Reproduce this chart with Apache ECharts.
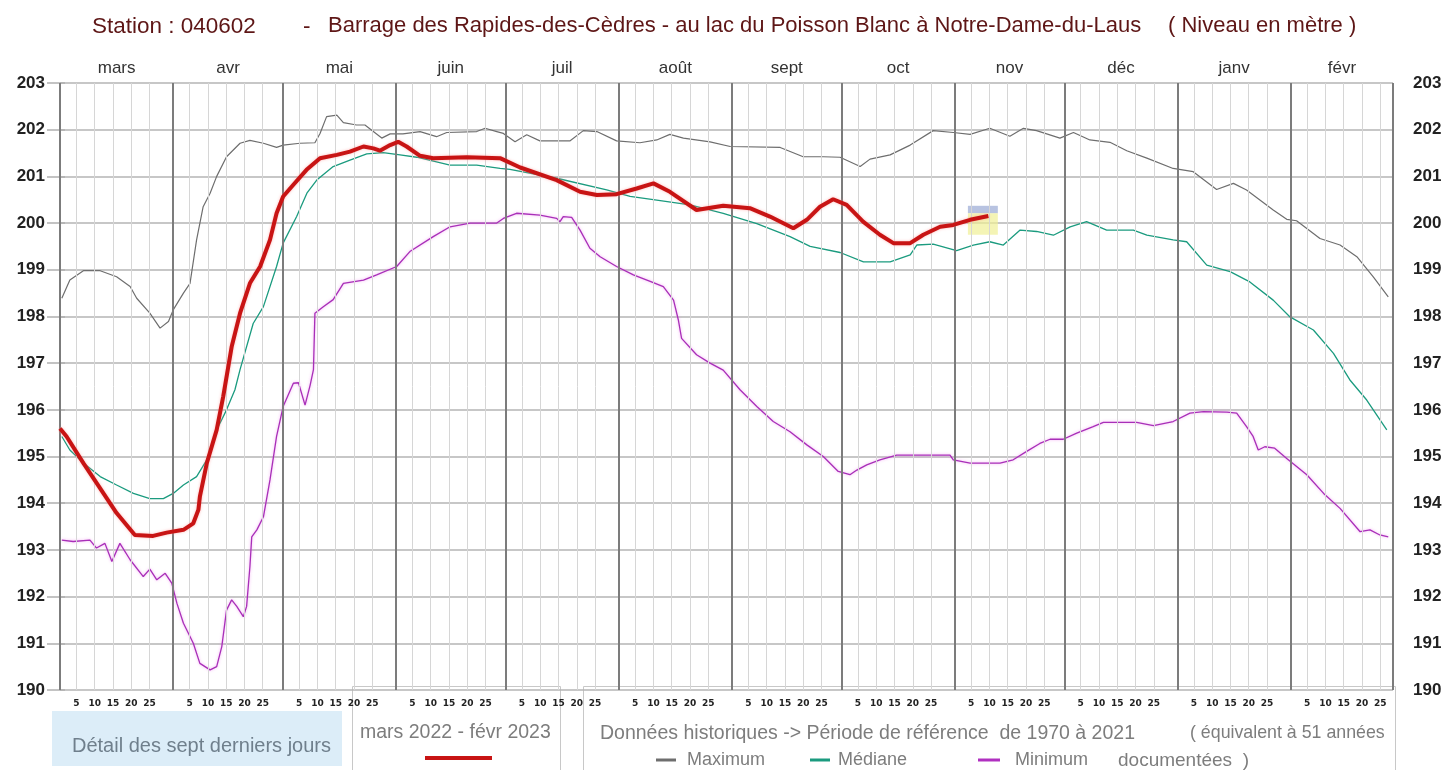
<!DOCTYPE html>
<html><head><meta charset="utf-8">
<script src="https://cdn.jsdelivr.net/npm/echarts@6/dist/echarts.min.js"></script>
<style>html,body{margin:0;padding:0;background:#fff}#c{width:1446px;height:770px}</style>
</head><body><div id="c"></div>
<script>
// ---- Axis definitions ----
const monthNames = ['mars','avr','mai','juin','juil','août','sept','oct','nov','déc','janv','févr'];
const monthLengths = [31,30,31,30,31,31,30,31,30,31,31,28];
const dayTicks = [5,10,15,20,25];
const yMin = 190, yMax = 203;

// ---- Series: [day since 1 March, level in m] ----
const maxSeries = [[0.5,198.39],[2.7,198.78],[6.4,198.98],[11,198.98],[15.5,198.85],[19.2,198.64],[21,198.39],[24.6,198.07],[27.4,197.75],[29.7,197.89],[31,198.14],[33.8,198.5],[35.6,198.71],[37.4,199.64],[39.2,200.35],[41.1,200.64],[42.9,201.0],[45.6,201.42],[49.3,201.71],[52,201.77],[55.7,201.71],[59.3,201.62],[61.1,201.67],[65.7,201.71],[69.8,201.72],[71.2,201.92],[73,202.28],[75.8,202.31],[77.6,202.15],[81.2,202.1],[83.5,202.1],[85.8,201.96],[88.1,201.82],[90.4,201.91],[93.9,201.91],[98.6,201.96],[103.1,201.85],[105.9,201.94],[114.1,201.96],[116.4,202.03],[119.6,201.96],[121.4,201.92],[124.6,201.74],[127.8,201.89],[131.4,201.76],[139.6,201.76],[143.3,201.98],[147,201.96],[152.4,201.76],[158.8,201.72],[163.4,201.78],[167,201.9],[170.7,201.82],[178,201.74],[183.5,201.64],[197.2,201.62],[203.5,201.42],[209,201.42],[213.6,201.41],[219.1,201.21],[221.8,201.37],[227.3,201.46],[232.8,201.67],[239.1,201.98],[244.6,201.94],[249.2,201.9],[254.6,202.03],[260.1,201.86],[263.8,202.03],[267.4,201.98],[273.8,201.82],[277.5,201.94],[282,201.78],[287.5,201.73],[292.1,201.55],[297.6,201.39],[304.8,201.17],[310.3,201.1],[316.7,200.72],[321.3,200.85],[324.9,200.71],[332.2,200.28],[335.9,200.08],[338.6,200.05],[345,199.67],[350.5,199.53],[355.1,199.28],[359.6,198.85],[363.7,198.42]];

const medianSeries = [[0.5,195.43],[2.7,195.14],[6.4,194.86],[11,194.57],[15.5,194.39],[20.1,194.21],[24.6,194.1],[28.3,194.1],[31,194.21],[33.8,194.39],[37.4,194.57],[40.2,194.93],[42.9,195.57],[45.6,196.0],[47.9,196.43],[49.3,196.86],[52.9,197.85],[55.7,198.21],[59.3,199.07],[61.1,199.57],[64.8,200.14],[67.6,200.64],[70.3,200.92],[74.8,201.21],[79.4,201.35],[84,201.48],[88.5,201.51],[93.1,201.46],[97.7,201.41],[106.8,201.24],[114.1,201.24],[120.5,201.17],[123.2,201.15],[136,200.96],[149.7,200.71],[156.1,200.57],[163.4,200.49],[172.5,200.39],[181.6,200.21],[190.8,199.99],[199.9,199.71],[205.4,199.5],[213.6,199.37],[220,199.17],[227.3,199.17],[232.8,199.32],[234.6,199.53],[239.1,199.55],[245.5,199.41],[250.1,199.53],[254.6,199.6],[258.3,199.53],[262.9,199.85],[267.4,199.82],[272,199.74],[276.6,199.92],[281.1,200.03],[286.6,199.85],[293.9,199.85],[297.6,199.74],[304.8,199.64],[308.5,199.6],[314,199.1],[320.4,198.96],[325.8,198.74],[332.2,198.35],[336.8,197.99],[343.2,197.71],[348.7,197.21],[353.2,196.64],[357.8,196.21],[363.3,195.57]];

const minSeries = [[0.5,193.21],[3.6,193.18],[8.2,193.21],[10,193.04],[12.3,193.14],[14.2,192.75],[16.4,193.14],[19.2,192.79],[22.8,192.43],[24.6,192.59],[26.5,192.36],[28.8,192.5],[30.6,192.29],[32,191.86],[33.8,191.43],[36.5,191.0],[38.3,190.57],[41.1,190.43],[42.9,190.5],[44.3,190.93],[45.6,191.71],[47,191.93],[48.4,191.79],[50.2,191.57],[51.1,191.79],[52,192.64],[52.5,193.28],[53.9,193.43],[55.7,193.71],[57.5,194.5],[59.3,195.43],[61.1,196.07],[63.9,196.57],[65.3,196.58],[67.1,196.1],[68.5,196.53],[69.4,196.86],[69.8,198.07],[72.1,198.21],[74.8,198.36],[77.6,198.71],[83.1,198.78],[86.7,198.89],[92.2,199.07],[95.8,199.39],[102.2,199.71],[106.8,199.92],[112.3,200.0],[119.6,200.0],[121.4,200.1],[125,200.21],[131.4,200.17],[136,200.1],[136.9,200.03],[137.8,200.14],[140.1,200.12],[142.4,199.85],[145.1,199.46],[147.9,199.28],[152.4,199.07],[157,198.89],[161.6,198.75],[165.2,198.64],[168,198.35],[169.3,197.93],[170.2,197.53],[174.3,197.18],[178,197.0],[181.6,196.85],[186.2,196.43],[190.8,196.07],[195.3,195.75],[199.9,195.53],[204.5,195.25],[209,195.0],[213.1,194.68],[216.3,194.61],[218.2,194.71],[220.9,194.82],[224.5,194.93],[229.1,195.03],[243.7,195.03],[244.6,194.93],[249.2,194.86],[257.4,194.86],[261,194.93],[264.7,195.11],[268.3,195.28],[271.1,195.37],[274.7,195.37],[278.4,195.5],[282.9,195.64],[285.7,195.73],[294.8,195.73],[299.4,195.66],[304.8,195.75],[309.4,195.93],[313.1,195.96],[319.5,195.95],[322.2,195.93],[324.9,195.64],[326.7,195.43],[328.1,195.14],[329.9,195.21],[332.6,195.18],[335.9,194.96],[341.4,194.61],[346,194.21],[350.5,193.89],[356,193.39],[358.7,193.43],[361.4,193.32],[363.7,193.28]];

const currentSeries = [[0,195.6],[1.8,195.43],[6.4,194.86],[11,194.32],[15.5,193.79],[20.5,193.32],[25.5,193.3],[29.2,193.37],[33.8,193.43],[36.5,193.57],[37.9,193.86],[38.3,194.14],[40.2,194.86],[42.9,195.57],[44.7,196.29],[47,197.35],[49.3,198.07],[52,198.71],[54.8,199.07],[57.5,199.64],[59.3,200.21],[61.1,200.57],[63.9,200.82],[67.5,201.14],[71.2,201.39],[75.8,201.46],[79.4,201.53],[83.1,201.64],[85.8,201.6],[87.6,201.55],[90.4,201.67],[92.6,201.74],[94.9,201.64],[98.6,201.44],[102.2,201.39],[111.4,201.41],[120.5,201.39],[126,201.19],[136,200.92],[142.4,200.67],[147,200.6],[152.4,200.62],[157.9,200.74],[162.5,200.85],[167,200.67],[174.3,200.28],[181.6,200.37],[188.9,200.32],[194.4,200.14],[200.8,199.89],[204.5,200.07],[208.1,200.35],[211.7,200.51],[215.4,200.39],[219.9,200.03],[224.5,199.75],[228.2,199.57],[232.8,199.57],[236.4,199.75],[241,199.92],[244.6,199.96],[249.2,200.07],[254.2,200.15]];

// last seven days window marker [startDay, endDay], level bands
const recentDays = [248.6, 256.8];
const recentBands = [200.37, 200.21, 199.75];

// ---- derived positions ----
const monthStarts = [];
let acc = 0;
monthLengths.forEach(l => { monthStarts.push(acc); acc += l; });
const yearLength = acc;
const monthMids = monthStarts.map((s, i) => s + monthLengths[i] / 2);
const monthLabelMap = {};
monthMids.forEach((m, i) => { monthLabelMap[m.toFixed(2)] = monthNames[i]; });
const minorPos = [];
const minorLabelMap = {};
monthStarts.forEach(s => dayTicks.forEach(d => {
  const p = s + d - 0.5;
  minorPos.push(p);
  minorLabelMap[p.toFixed(2)] = String(d);
}));
const boundaries = monthStarts.concat([yearLength]);

const chart = echarts.init(document.getElementById('c'), null, {renderer: 'canvas'});
const FONT = "'Liberation Sans',Arial,sans-serif";
const legendGray = '#7d7d7d';
const titleColor = '#5e1616';

const option = {
  animation: false,
  backgroundColor: '#ffffff',
  grid: {left: 60, right: 53, top: 83, bottom: 80, containLabel: false},
  xAxis: [
    {type: 'value', position: 'bottom', min: 0, max: yearLength,
     axisLine: {show: false}, axisTick: {show: false}, splitLine: {show: false},
     axisLabel: {customValues: minorPos, formatter: v => minorLabelMap[v.toFixed(2)] || '',
       fontSize: 9, fontWeight: 'bold', color: '#222', margin: 9, fontFamily: 'DejaVu Sans'}},
    {type: 'value', position: 'top', min: 0, max: yearLength,
     axisLine: {show: false}, axisTick: {show: false}, splitLine: {show: false},
     axisLabel: {customValues: monthMids, formatter: v => monthLabelMap[v.toFixed(2)] || '',
       fontSize: 17, color: '#333', margin: 6, fontFamily: FONT}}
  ],
  yAxis: [
    {type: 'value', position: 'left', min: yMin, max: yMax, interval: 1,
     axisLine: {show: false},
     axisTick: {show: true, length: 13, lineStyle: {color: '#b0b0b0', width: 1.5}},
     axisLabel: {fontSize: 17, fontWeight: 'bold', color: '#222', margin: 15, fontFamily: 'Liberation Sans'},
     splitLine: {show: true, lineStyle: {color: '#b4b4b4', width: 1.5}}},
    {type: 'value', position: 'right', min: yMin, max: yMax, interval: 1,
     axisLine: {show: false},
     axisTick: {show: true, length: 5, lineStyle: {color: '#b0b0b0', width: 1.5}},
     axisLabel: {fontSize: 17, fontWeight: 'bold', color: '#222', margin: 20, fontFamily: 'Liberation Sans'},
     splitLine: {show: false}}
  ],
  series: [
    {type: 'line', name: 'grid', data: [], silent: true, z: 1,
     markLine: {silent: true, symbol: ['none', 'none'], label: {show: false}, animation: false,
       data: minorPos.map(p => ({xAxis: p, lineStyle: {color: '#d6d6d6', width: 1, type: 'solid'}}))
         .concat(boundaries.map(b => ({xAxis: b, lineStyle: {color: '#7c7c7c', width: 2, type: 'solid'}})))}},
    {type: 'line', name: 'Maximum', data: maxSeries, showSymbol: false, z: 3,
     lineStyle: {color: '#6e6e6e', width: 1.2}},
    {type: 'line', name: 'Médiane', data: medianSeries, showSymbol: false, z: 3,
     lineStyle: {color: '#1b9b7f', width: 1.3}},
    {type: 'line', name: 'Minimum', data: minSeries, showSymbol: false, z: 3,
     lineStyle: {color: '#a82fb8', width: 1.3, shadowColor: 'rgba(240,130,240,0.7)', shadowBlur: 3}},
    {type: 'line', name: 'mars 2022 - févr 2023', data: currentSeries, showSymbol: false, z: 5,
     lineStyle: {color: '#c81414', width: 4, shadowColor: 'rgba(255,140,140,0.6)', shadowBlur: 3},
     markArea: {silent: true, data: [
       [{xAxis: recentDays[0], yAxis: recentBands[0], itemStyle: {color: 'rgba(160,175,215,0.75)'}},
        {xAxis: recentDays[1], yAxis: recentBands[1]}],
       [{xAxis: recentDays[0], yAxis: recentBands[1], itemStyle: {color: 'rgba(240,240,150,0.7)'}},
        {xAxis: recentDays[1], yAxis: recentBands[2]}]
     ]}}
  ],
  graphic: [
    // title
    {type: 'text', left: 92, top: 15, style: {text: 'Station : 040602', font: "22.5px " + FONT, fill: titleColor}},
    {type: 'text', left: 303, top: 15, style: {text: '-', font: "22.5px " + FONT, fill: titleColor}},
    {type: 'text', left: 328, top: 15, style: {text: 'Barrage des Rapides-des-Cèdres - au lac du Poisson Blanc à Notre-Dame-du-Laus', font: "22px " + FONT, fill: titleColor}},
    {type: 'text', left: 1168, top: 15, style: {text: '( Niveau en mètre )', font: "22px " + FONT, fill: titleColor}},
    // legend box 1
    {type: 'rect', shape: {x: 52, y: 711, width: 290, height: 55}, style: {fill: '#dcedf8'}},
    {type: 'text', left: 72, top: 736, style: {text: 'Détail des sept derniers jours', font: "20px " + FONT, fill: '#6f7f8c'}},
    // legend box 2
    {type: 'rect', shape: {x: 352.5, y: 686.5, width: 208, height: 90}, style: {fill: 'none', stroke: '#c8c8c8', lineWidth: 1}},
    {type: 'text', left: 360, top: 723, style: {text: 'mars 2022 - févr 2023', font: "19.5px " + FONT, fill: legendGray}},
    {type: 'line', shape: {x1: 425, y1: 758, x2: 492, y2: 758}, style: {stroke: '#c81414', lineWidth: 4}},
    // legend box 3
    {type: 'rect', shape: {x: 583.5, y: 686.5, width: 812, height: 90}, style: {fill: 'none', stroke: '#c8c8c8', lineWidth: 1}},
    {type: 'text', left: 600, top: 724, style: {text: 'Données historiques -> Période de référence  de 1970 à 2021', font: "19.5px " + FONT, fill: legendGray}},
    {type: 'text', left: 1190, top: 724, style: {text: '( équivalent à 51 années', font: "17.8px " + FONT, fill: legendGray}},
    {type: 'line', shape: {x1: 656, y1: 760, x2: 676, y2: 760}, style: {stroke: '#6e6e6e', lineWidth: 3}},
    {type: 'text', left: 687, top: 751, style: {text: 'Maximum', font: "18px " + FONT, fill: legendGray}},
    {type: 'line', shape: {x1: 810, y1: 760, x2: 830, y2: 760}, style: {stroke: '#1b9b7f', lineWidth: 3}},
    {type: 'text', left: 838, top: 751, style: {text: 'Médiane', font: "18px " + FONT, fill: legendGray}},
    {type: 'line', shape: {x1: 978, y1: 760, x2: 1000, y2: 760}, style: {stroke: '#b030c0', lineWidth: 3}},
    {type: 'text', left: 1015, top: 751, style: {text: 'Minimum', font: "18px " + FONT, fill: legendGray}},
    {type: 'text', left: 1118, top: 751, style: {text: 'documentées  )', font: "19px " + FONT, fill: legendGray}}
  ]
};
chart.setOption(option);
</script>
</body></html>
